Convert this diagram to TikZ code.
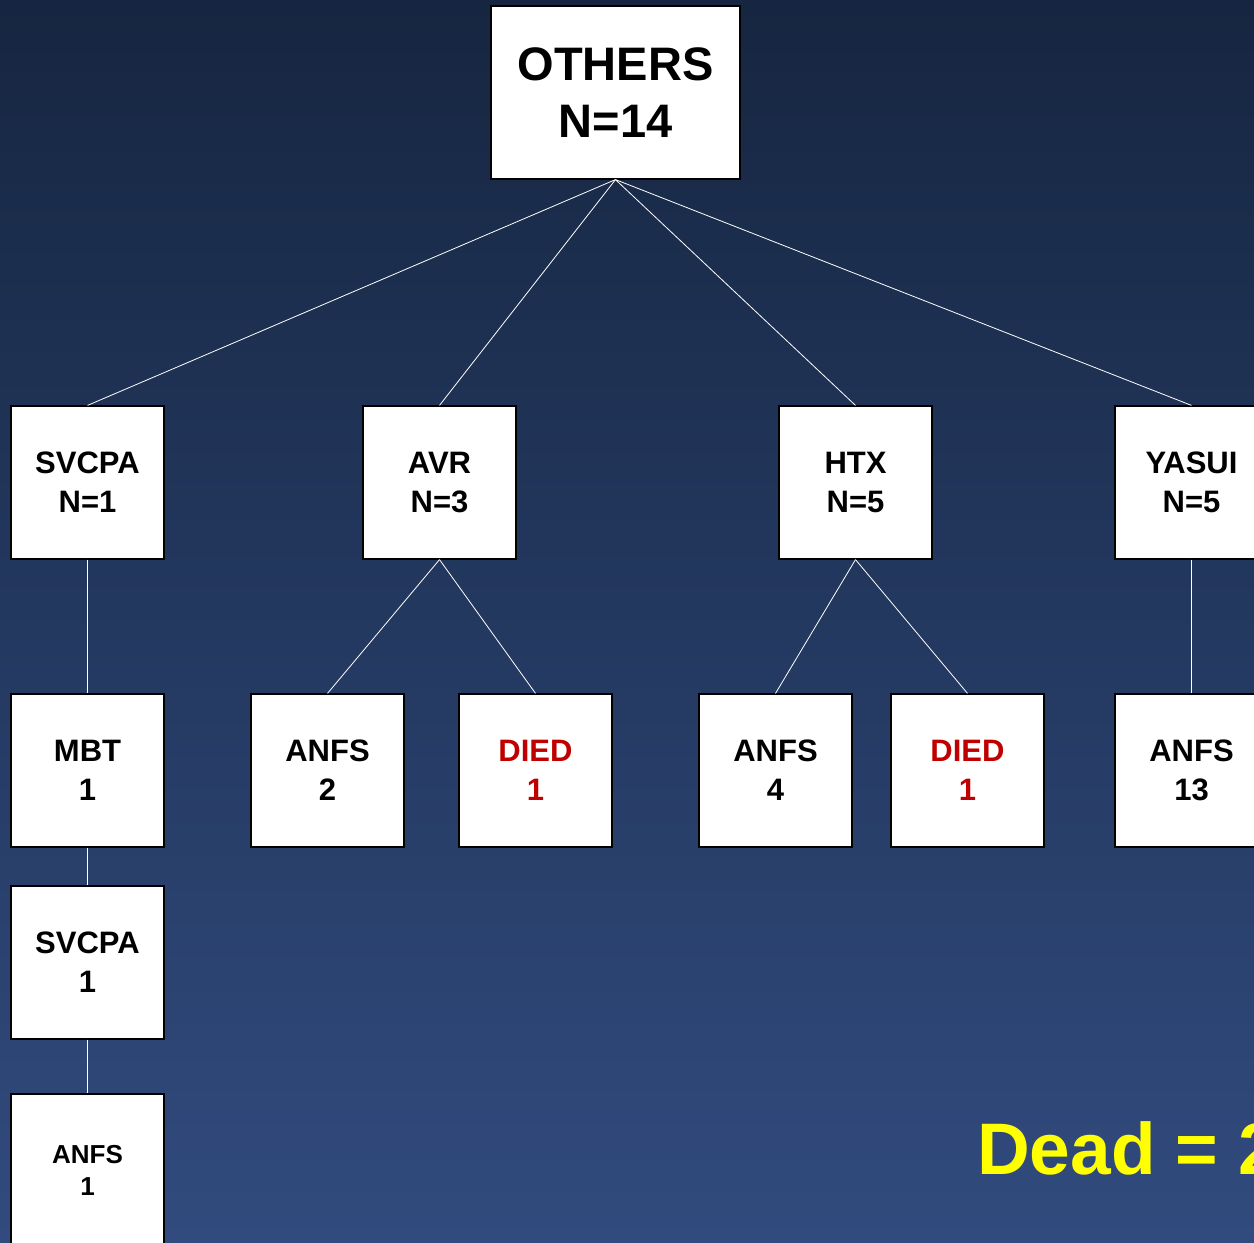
\documentclass[tikz,border=0pt]{standalone}
\usepackage{fontspec}
\setmainfont{Liberation Sans}
\begin{document}
\begin{tikzpicture}[x=1pt,y=-1pt,
  box/.style={draw=black,line width=1.2pt,fill=white,minimum width=153pt,minimum height=153pt,inner sep=0pt,align=center,font=\bfseries\fontsize{31}{39}\selectfont},
  link/.style={draw=white,line width=0.8pt}]
\useasboundingbox (0,0) rectangle (1254,1243);
\clip (0,0) rectangle (1254,1243);
\shade[top color={rgb,255:red,22;green,38;blue,65}, bottom color={rgb,255:red,49;green,75;blue,126}] (0,0) rectangle (1254,1243);
\definecolor{diedred}{RGB}{192,0,0}
% top
\node[box,minimum width=249pt,minimum height=173pt,font=\bfseries\fontsize{47}{57}\selectfont] (others) at (615.5,92.5) {OTHERS\\N=14};
% level 2
\node[box] (svcpa) at (87.5,482.5) {SVCPA\\N=1};
\node[box] (avr) at (439.5,482.5) {AVR\\N=3};
\node[box] (htx) at (855.5,482.5) {HTX\\N=5};
\node[box] (yasui) at (1191.5,482.5) {YASUI\\N=5};
% level 3
\node[box] (mbt) at (87.5,770.5) {MBT\\1};
\node[box] (anfsa) at (327.5,770.5) {ANFS\\2};
\node[box,text=diedred] (dieda) at (535.5,770.5) {DIED\\1};
\node[box] (anfsb) at (775.5,770.5) {ANFS\\4};
\node[box,text=diedred] (diedb) at (967.5,770.5) {DIED\\1};
\node[box] (anfsc) at (1191.5,770.5) {ANFS\\13};
% lower chain
\node[box] (svcpb) at (87.5,962.5) {SVCPA\\1};
\node[box,font=\bfseries\fontsize{26}{32}\selectfont] (anfsd) at (87.5,1170.5) {ANFS\\1};
% links
\draw[link] (others.south) -- (svcpa.north);
\draw[link] (others.south) -- (avr.north);
\draw[link] (others.south) -- (htx.north);
\draw[link] (others.south) -- (yasui.north);
\draw[link] (avr.south) -- (anfsa.north);
\draw[link] (avr.south) -- (dieda.north);
\draw[link] (htx.south) -- (anfsb.north);
\draw[link] (htx.south) -- (diedb.north);
\draw[link] (svcpa.south) -- (mbt.north);
\draw[link] (yasui.south) -- (anfsc.north);
\draw[link] (mbt.south) -- (svcpb.north);
\draw[link] (svcpb.south) -- (anfsd.north);
% dead
\node[anchor=base west,inner sep=0pt,text={rgb,255:red,255;green,255;blue,0},font=\bfseries\fontsize{73}{80}\selectfont] (dead) at (977,1174) {Dead = 2};
\end{tikzpicture}
\end{document}
